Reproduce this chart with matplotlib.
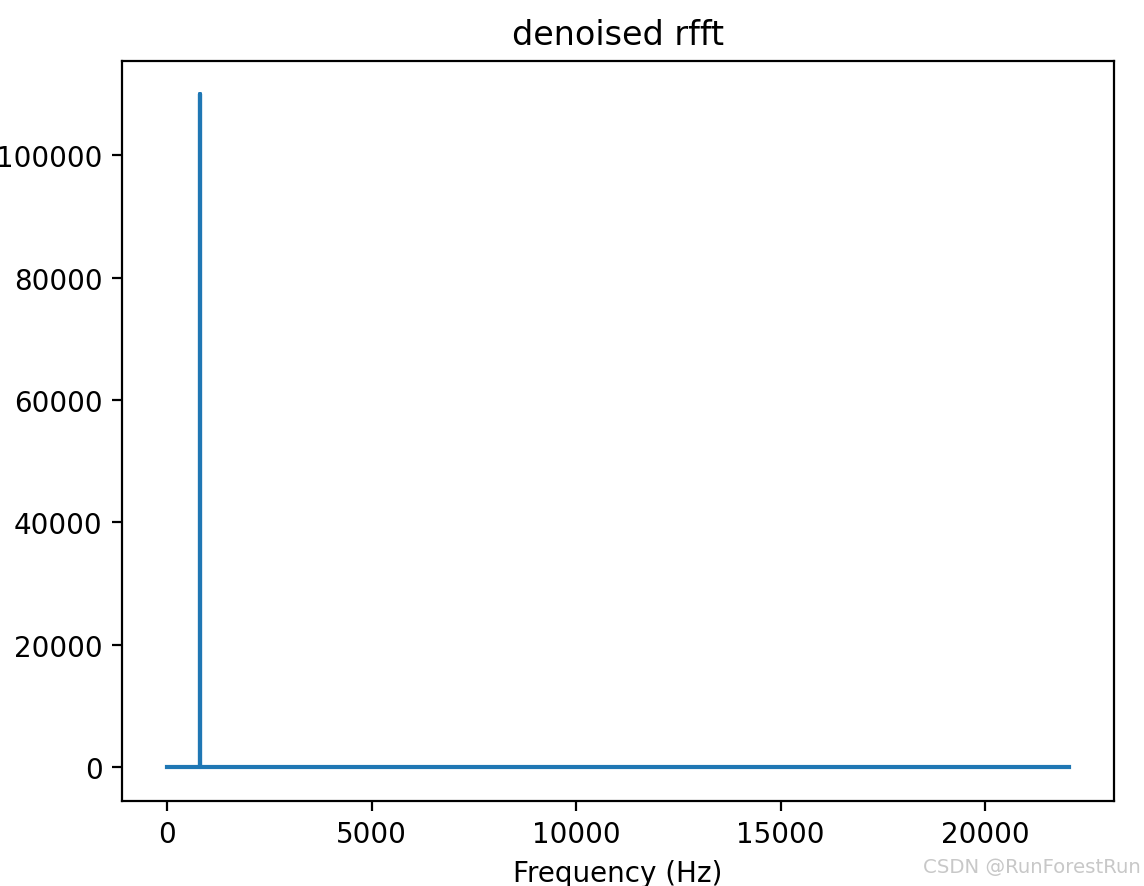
import matplotlib
matplotlib.use('Agg')
import matplotlib.pyplot as plt

# spectrum after denoising: only the 800 Hz component is left
freqs = [0, 800, 800, 800, 22050]
amps = [0, 0, 110000, 0, 0]

fig = plt.figure(figsize=(1144 / 200, 887 / 200), dpi=200)
ax = fig.add_axes([122 / 1144, 1 - 801.5 / 887, (1114 - 122) / 1144, (801.5 - 61.5) / 887])

ax.plot(freqs, amps)
ax.set_title('denoised rfft')
ax.set_xlabel('Frequency (Hz)')

fig.text(0.997, 0.022, 'CSDN @RunForestRun', ha='right', va='center',
         fontsize=7.1, color='#c8c8c8')

fig.savefig('out.png', dpi=200)
